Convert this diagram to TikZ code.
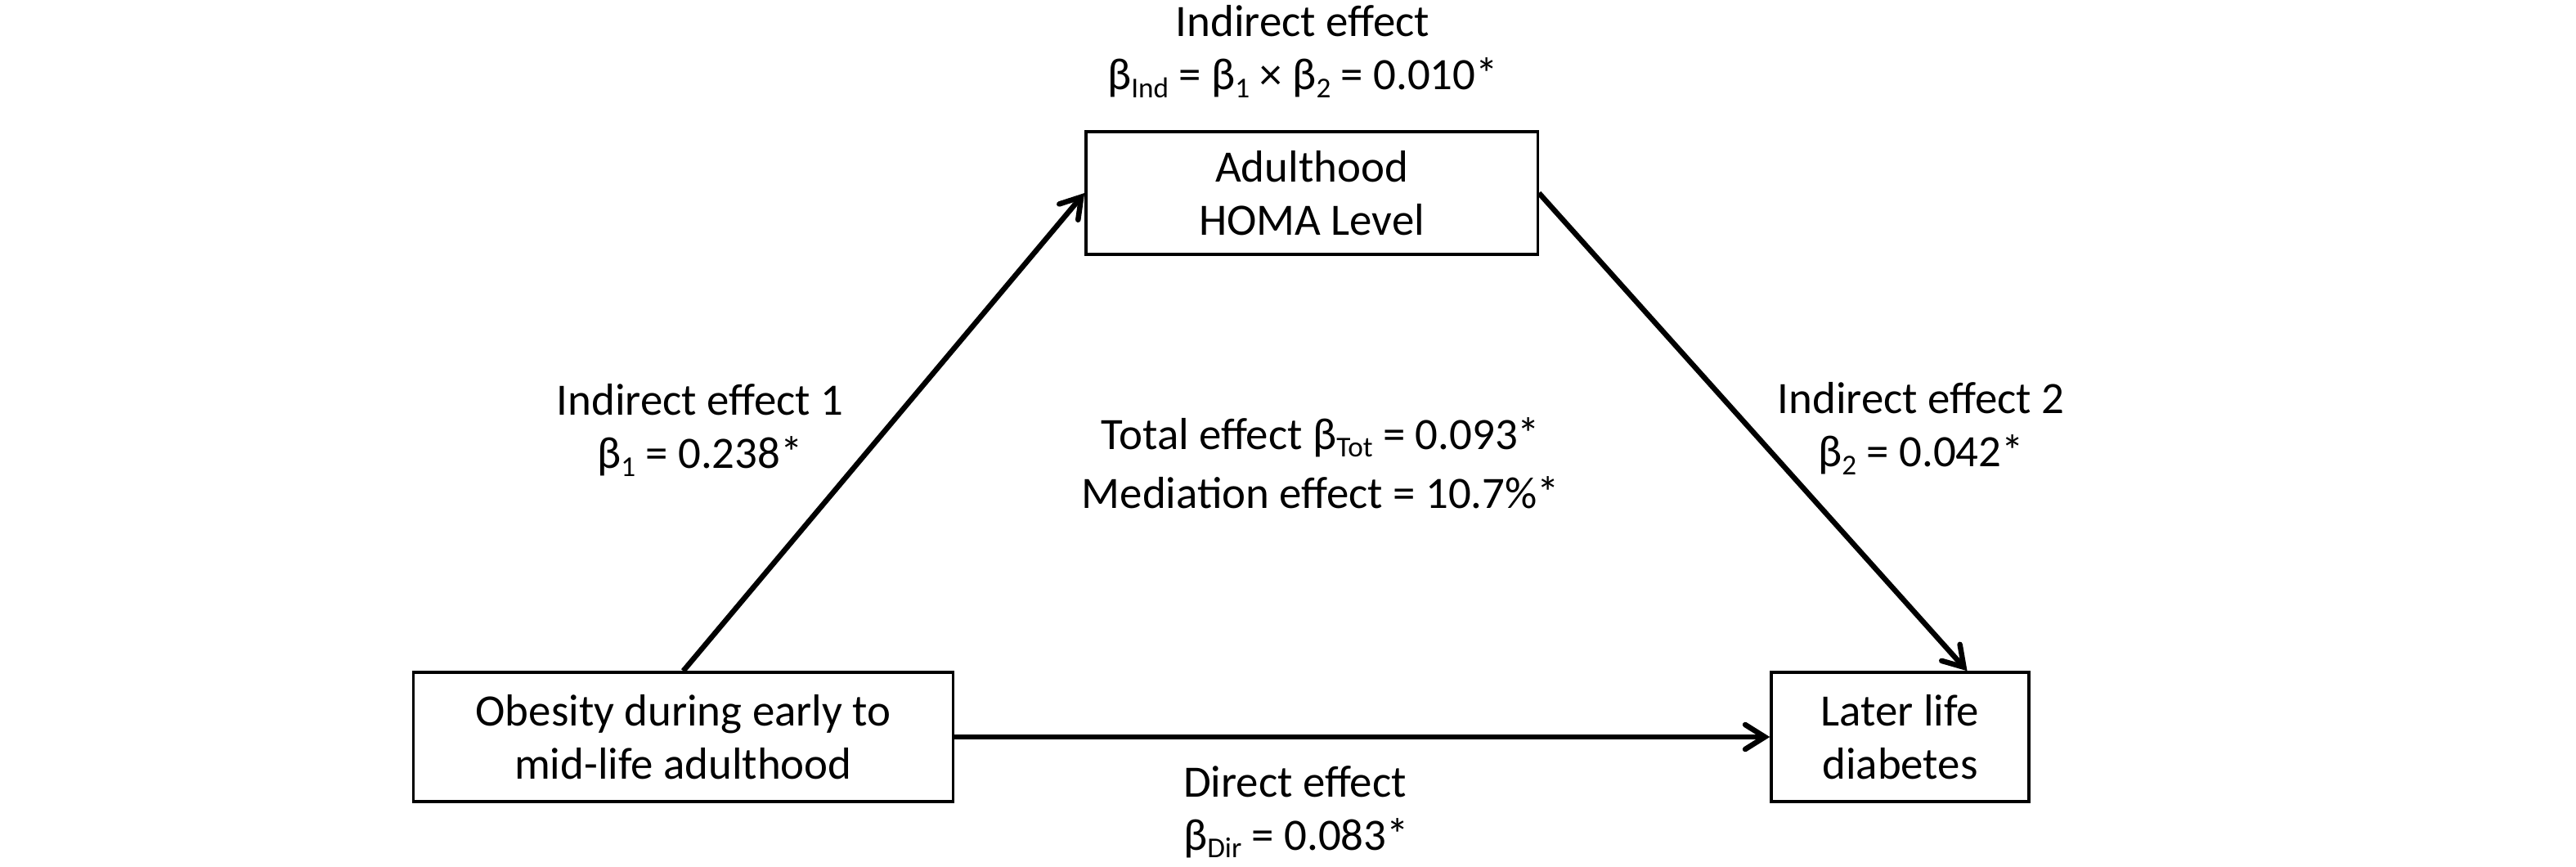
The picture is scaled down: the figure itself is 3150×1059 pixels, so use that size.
\documentclass[tikz,border=0pt]{standalone}
\usepackage{fontspec}
\setmainfont{Carlito}
\usetikzlibrary{arrows.meta}
\newcommand\fsz{\fontsize{15.6pt}{18.5pt}\selectfont}
\newcommand\sbs[1]{\raisebox{-2.6pt}{\fontsize{10pt}{11pt}\selectfont #1}}
\begin{document}
\begin{tikzpicture}[x=0.01cm,y=-0.01cm,
  box/.style n args={2}{draw, line width=0.95pt, inner sep=0pt, minimum width=#1, minimum height=#2, align=center, font=\fsz},
  lbl/.style={align=center, font=\fsz, inner sep=0pt},
  arr/.style={line width=1.85pt, -{Straight Barb[length=0.24cm, width=0.3cm, line cap=round]}}]
\useasboundingbox (0,0) rectangle (3150,1059);
\node[box={5.52cm}{1.50cm}] (homa) at (1604,236) {Adulthood\\HOMA Level};
\node[box={6.59cm}{1.58cm}] (obes) at (835.5,901) {Obesity during early to\\mid-life adulthood};
\node[box={3.15cm}{1.58cm}] (diab) at (2323.5,901) {Later life\\diabetes};
\draw[arr] (obes.north) -- (homa.west);
\draw[arr] (homa.east) -- ([xshift=0.82cm]diab.north);
\draw[arr] (obes.east) -- (diab.west);
\node[lbl] (ind) at (1593,63) {Indirect effect\\β\sbs{Ind} = β\sbs{1} × β\sbs{2} = 0.010*};
\node[lbl] (ind1) at (856,526) {Indirect effect 1\\β\sbs{1} = 0.238*};
\node[lbl] (ind2) at (2349,524) {Indirect effect 2\\β\sbs{2} = 0.042*};
\node[lbl] (tot) at (1615,566) {Total effect β\sbs{Tot} = 0.093*\\[0.07cm]Mediation effect = 10.7\%*};
\node[lbl, align=left] (dir) at (1585,993) {Direct effect\\β\sbs{Dir} = 0.083*};
\end{tikzpicture}
\end{document}
